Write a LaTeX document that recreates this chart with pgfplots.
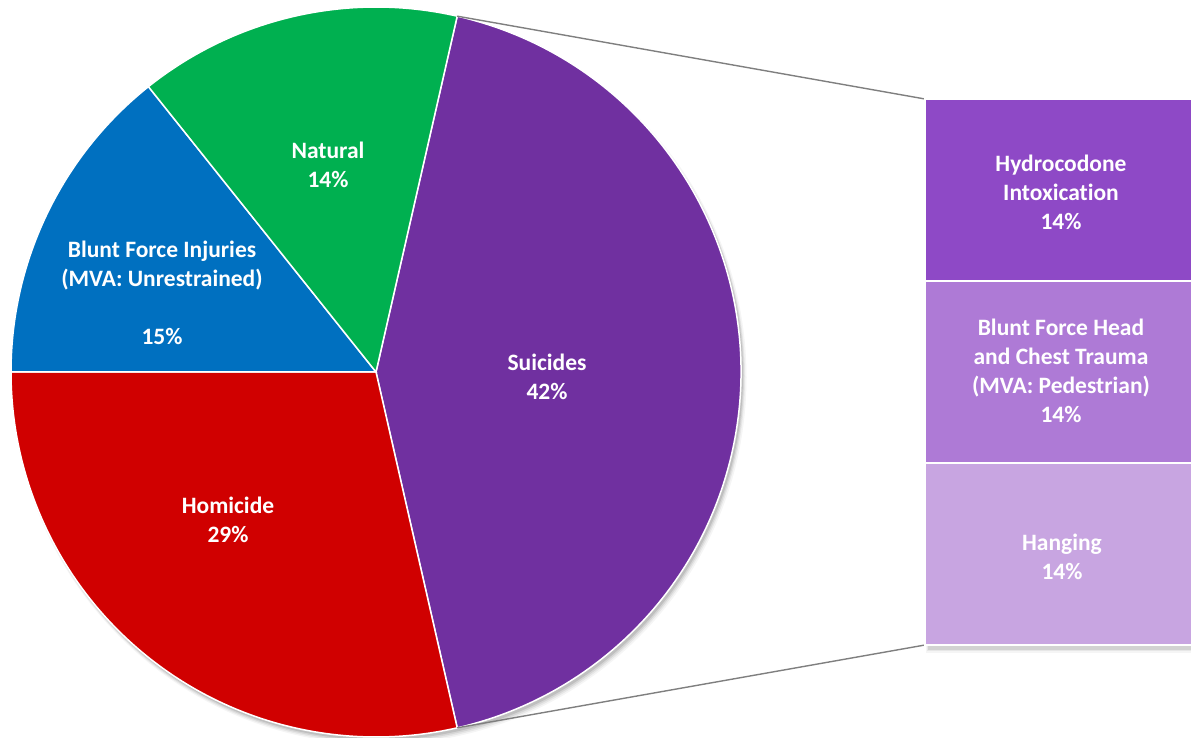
\documentclass[border=0pt]{standalone}
\usepackage{pgfplots}
\pgfplotsset{compat=1.18}
\usepackage{pgfplotstable}
\usepackage{fontspec}
\setmainfont{Carlito}[Ligatures={NoCommon}]
\definecolor{cSui}{HTML}{7030A0}
\definecolor{cHom}{HTML}{D00000}
\definecolor{cBlu}{HTML}{0070C0}
\definecolor{cNat}{HTML}{00B050}
\definecolor{cB1}{HTML}{8E49C6}
\definecolor{cB2}{HTML}{AE7AD6}
\definecolor{cB3}{HTML}{C8A5E1}
\definecolor{cLine}{HTML}{7F7F7F}
\tikzset{lbl/.style={text=white,font=\fontsize{23.5bp}{29bp}\selectfont\bfseries,align=center,inner sep=0pt}}
\pgfplotstableread{
label value
Suicides 3
Homicide 2
Blunt 1
Natural 1
}\piedata
\pgfplotstableread{
label value
Hydrocodone 1
BluntHead 1
Hanging 1
}\bardata
\begin{document}
\begin{tikzpicture}
\useasboundingbox (0,0) rectangle (1191bp,738bp);
\clip (0,0) rectangle (1191bp,738bp);
% pie angles from the table
\pgfplotstablegetelem{0}{value}\of\piedata \pgfmathsetmacro{\vA}{\pgfplotsretval}
\pgfplotstablegetelem{1}{value}\of\piedata \pgfmathsetmacro{\vB}{\pgfplotsretval}
\pgfplotstablegetelem{2}{value}\of\piedata \pgfmathsetmacro{\vC}{\pgfplotsretval}
\pgfplotstablegetelem{3}{value}\of\piedata \pgfmathsetmacro{\vD}{\pgfplotsretval}
\pgfmathsetmacro{\tot}{\vA+\vB+\vC+\vD}
\pgfmathsetmacro{\aA}{180*\vA/\tot}
\pgfmathsetmacro{\aB}{\aA-360*\vA/\tot}
\pgfmathsetmacro{\aC}{\aB-360*\vB/\tot}
\pgfmathsetmacro{\aD}{\aC-360*\vC/\tot}
\pgfmathsetmacro{\aE}{\aD-360*\vD/\tot}
% bar heights
\pgfplotstablegetelem{0}{value}\of\bardata \pgfmathsetmacro{\bA}{\pgfplotsretval}
\pgfplotstablegetelem{1}{value}\of\bardata \pgfmathsetmacro{\bB}{\pgfplotsretval}
\pgfplotstablegetelem{2}{value}\of\bardata \pgfmathsetmacro{\bC}{\pgfplotsretval}
\pgfmathsetmacro{\bt}{\bA+\bB+\bC}
\pgfmathsetmacro{\yTop}{639}
\pgfmathsetmacro{\yOne}{\yTop-546*\bA/\bt}
\pgfmathsetmacro{\yTwo}{\yOne-546*\bB/\bt}
\pgfmathsetmacro{\yThree}{\yTwo-546*\bC/\bt}
\pgfmathsetmacro{\ySh}{\yThree-5}
\begin{axis}[x=1bp,y=1bp,xmin=0,xmax=1191,ymin=0,ymax=738,hide axis,clip=true,
  anchor=origin,at={(0,0)}]
% shadows
\fill[black,opacity=0.04] (axis cs:379.5,360.5) circle[radius=367bp];
\fill[black,opacity=0.06] (axis cs:379,361) circle[radius=366bp];
\fill[black,opacity=0.08] (axis cs:378.5,362) circle[radius=365.5bp];
\fill[black,opacity=0.1] (axis cs:378,363) circle[radius=365bp];
\fill[black,opacity=0.04] (axis cs:926,\ySh-3) rectangle (axis cs:1195,\yTop-6);
\fill[black,opacity=0.06] (axis cs:927,\ySh-1.5) rectangle (axis cs:1195,\yTop-6);
\fill[black,opacity=0.09] (axis cs:928,\ySh) rectangle (axis cs:1195,\yTop-6);
% pie
\fill[cSui,draw=white,line width=1.5bp] (axis cs:376,366) -- ++(\aA:365bp) arc[start angle=\aA,end angle=\aB,radius=365bp] -- cycle;
\fill[cHom,draw=white,line width=1.5bp] (axis cs:376,366) -- ++(\aB:365bp) arc[start angle=\aB,end angle=\aC,radius=365bp] -- cycle;
\fill[cBlu,draw=white,line width=1.5bp] (axis cs:376,366) -- ++(\aC:365bp) arc[start angle=\aC,end angle=\aD,radius=365bp] -- cycle;
\fill[cNat,draw=white,line width=1.5bp] (axis cs:376,366) -- ++(\aD:365bp) arc[start angle=\aD,end angle=\aE,radius=365bp] -- cycle;
% connectors
\draw[cLine,line width=1.4bp] (axis cs:376,366) ++(\aA:365bp) -- (axis cs:925,\yTop);
\draw[cLine,line width=1.4bp] (axis cs:376,366) ++(\aB:365bp) -- (axis cs:925,\yThree);
% bar
\fill[cB1,draw=white,line width=1.5bp] (axis cs:925,\yTop) rectangle (axis cs:1195,\yOne);
\fill[cB2,draw=white,line width=1.5bp] (axis cs:925,\yOne) rectangle (axis cs:1195,\yTwo);
\fill[cB3,draw=white,line width=1.5bp] (axis cs:925,\yTwo) rectangle (axis cs:1195,\yThree);
% labels
\node[lbl] at (axis cs:328,573) {Natural\\14\%};
\node[lbl] at (axis cs:162,445) {Blunt Force Injuries\\(MVA: Unrestrained)\\[29bp]15\%};
\node[lbl] at (axis cs:547,361) {Suicides\\42\%};
\node[lbl] at (axis cs:228,218) {Homicide\\29\%};
\node[lbl] at (axis cs:1061,546) {Hydrocodone\\Intoxication\\14\%};
\node[lbl] at (axis cs:1061,367) {Blunt Force Head\\and Chest Trauma\\(MVA: Pedestrian)\\14\%};
\node[lbl] at (axis cs:1062,181) {Hanging\\14\%};
\end{axis}
\end{tikzpicture}
\end{document}
